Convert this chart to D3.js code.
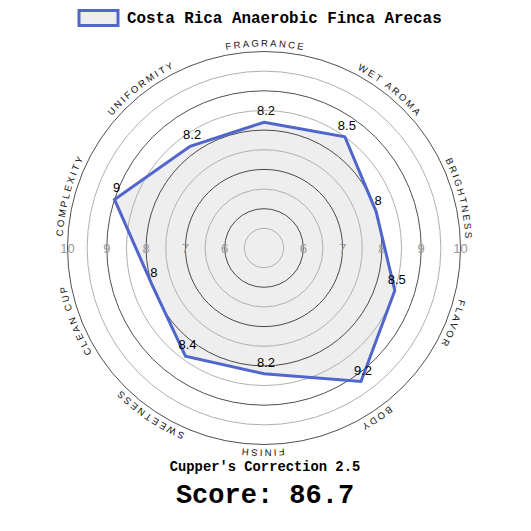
<!DOCTYPE html>
<html>
<head>
<meta charset="utf-8">
<script src="https://cdn.jsdelivr.net/npm/d3@7"></script>
<style>
  html, body { margin: 0; padding: 0; background: #fff; }
  svg { display: block; }
</style>
</head>
<body>
<svg id="chart" width="531" height="531"></svg>
<script>
// ---- data ----
const categories = ["FRAGRANCE", "WET AROMA", "BRIGHTNESS", "FLAVOR", "BODY",
                    "FINISH", "SWEETNESS", "CLEAN CUP", "COMPLEXITY", "UNIFORMITY"];
const values = [8.2, 8.5, 8, 8.5, 9.2, 8.2, 8.4, 8, 9, 8.2];
const gridLevels = [5.5, 6, 6.5, 7, 7.5, 8, 8.5, 9, 9.5, 10];
const tickLabels = [6, 7, 8, 9, 10];
const seriesName = "Costa Rica Anaerobic Finca Arecas";
const correctionText = "Cupper's Correction 2.5";
const scoreText = "Score: 86.7";

// ---- layout ----
const cx = 264, cy = 248;
const rMax = 196.5;
const labelR = 201.5;
const lineColor = "#5166cc";

const svg = d3.select("#chart");
const r = d3.scaleLinear().domain([5, 10]).range([0, rMax]);
const angle = d3.scaleLinear().domain([0, categories.length]).range([0, 2 * Math.PI]);

const g = svg.append("g").attr("transform", `translate(${cx},${cy})`);

// polygon fill
const radial = d3.lineRadial()
  .angle((d, i) => angle(i))
  .radius(d => r(d))
  .curve(d3.curveLinearClosed);

g.append("path")
  .datum(values)
  .attr("d", radial)
  .attr("fill", "#eeeeee")
  .attr("stroke", "none");

// grid circles
g.selectAll("circle.grid")
  .data(gridLevels)
  .join("circle")
  .attr("class", "grid")
  .attr("r", d => r(d))
  .attr("fill", "none")
  .attr("stroke", d => Number.isInteger(d) ? "#222" : "#b0b0b0")
  .attr("stroke-width", d => Number.isInteger(d) ? 0.8 : 1);

// tick labels on horizontal axis both sides
const tickData = [];
tickLabels.forEach(t => { tickData.push({ t, s: -1 }); tickData.push({ t, s: 1 }); });
g.selectAll("text.tick")
  .data(tickData)
  .join("text")
  .attr("class", "tick")
  .attr("x", d => d.s * r(d.t))
  .attr("y", 0)
  .attr("dy", "0.36em")
  .attr("text-anchor", "middle")
  .attr("font-family", "'Liberation Sans', Arial, sans-serif")
  .attr("font-size", 13)
  .attr("fill", "#999")
  .text(d => d.t);

// polygon outline
g.append("path")
  .datum(values)
  .attr("d", radial)
  .attr("fill", "none")
  .attr("stroke", lineColor)
  .attr("stroke-width", 3)
  .attr("stroke-linejoin", "miter");

// value labels
g.selectAll("text.val")
  .data(values)
  .join("text")
  .attr("class", "val")
  .attr("x", (d, i) => r(d) * Math.sin(angle(i)) + 2)
  .attr("y", (d, i) => -r(d) * Math.cos(angle(i)) - 7)
  .attr("text-anchor", "middle")
  .attr("font-family", "'Liberation Sans', Arial, sans-serif")
  .attr("font-size", 13)
  .attr("fill", "#000")
  .text(d => d);

// category labels on a circular path (two clockwise turns from the top)
const C = 2 * Math.PI * labelR;
g.append("path")
  .attr("id", "labelPath")
  .attr("d", `M0,${-labelR} A${labelR},${labelR} 0 1 1 0,${labelR} A${labelR},${labelR} 0 1 1 0,${-labelR} A${labelR},${labelR} 0 1 1 0,${labelR} A${labelR},${labelR} 0 1 1 0,${-labelR}`)
  .attr("fill", "none")
  .attr("stroke", "none");

// labels drift slightly toward the bottom on both sides in the original
const skew = a => 3.6 * Math.PI / 180 * Math.sin(a);

g.selectAll("text.cat")
  .data(categories)
  .join("text")
  .attr("class", "cat")
  .attr("font-family", "'Liberation Sans', Arial, sans-serif")
  .attr("font-size", 9.5)
  .attr("letter-spacing", "2.2px")
  .attr("fill", "#111")
  .append("textPath")
  .attr("href", "#labelPath")
  .attr("startOffset", (d, i) => {
    const a = angle(i);
    return C + (a + skew(a)) * labelR + 1.1;
  })
  .attr("text-anchor", "middle")
  .text(d => d);

// legend
svg.append("rect")
  .attr("x", 79).attr("y", 10.5)
  .attr("width", 39).attr("height", 15)
  .attr("fill", "#eeeeee")
  .attr("stroke", lineColor)
  .attr("stroke-width", 3);

svg.append("text")
  .attr("x", 127).attr("y", 22.5)
  .attr("font-family", "'Liberation Mono', 'Courier New', monospace")
  .attr("font-weight", "bold")
  .attr("font-size", 15.9)
  .attr("fill", "#000")
  .text(seriesName);

// footer
svg.append("text")
  .attr("x", 265).attr("y", 471)
  .attr("text-anchor", "middle")
  .attr("font-family", "'Liberation Mono', 'Courier New', monospace")
  .attr("font-weight", "bold")
  .attr("font-size", 13.8)
  .attr("fill", "#000")
  .text(correctionText);

svg.append("text")
  .attr("x", 265).attr("y", 503)
  .attr("text-anchor", "middle")
  .attr("font-family", "'Liberation Mono', 'Courier New', monospace")
  .attr("font-weight", "bold")
  .attr("font-size", 27)
  .attr("fill", "#000")
  .text(scoreText);
</script>
</body>
</html>
